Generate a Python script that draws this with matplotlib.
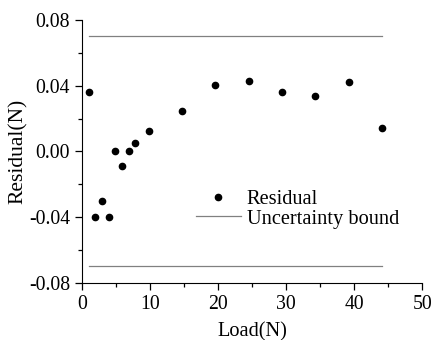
import matplotlib
matplotlib.use("Agg")
import matplotlib.pyplot as plt
from matplotlib.ticker import MultipleLocator, FormatStrFormatter

# data
load = [0.98, 1.96, 2.94, 3.92, 4.9, 5.88, 6.86, 7.84, 9.8,
        14.7, 19.6, 24.5, 29.4, 34.3, 39.2, 44.1]
residual = [0.0365, -0.040, -0.030, -0.040, 0.0002, -0.009, 0.0004, 0.0053, 0.0126,
            0.0248, 0.0402, 0.0432, 0.0365, 0.0335, 0.042, 0.014]
bound_x = [0.98, 44.1]
bound = 0.07

plt.rcParams["font.family"] = ["Liberation Serif", "DejaVu Serif"]
plt.rcParams["axes.unicode_minus"] = False
plt.rcParams["font.size"] = 14.7

fig = plt.figure(figsize=(4.33, 3.40), dpi=100)
ax = fig.add_axes([0.189, 0.168, 0.786, 0.773])

ax.plot(load, residual, "o", color="black", markersize=4.5, label="Residual")
ax.plot(bound_x, [bound, bound], color="#808080", linewidth=0.9, label="Uncertainty bound")
ax.plot(bound_x, [-bound, -bound], color="#808080", linewidth=0.9)

ax.set_xlim(0, 50)
ax.set_ylim(-0.08, 0.08)
ax.xaxis.set_major_locator(MultipleLocator(10))
ax.xaxis.set_minor_locator(MultipleLocator(5))
ax.yaxis.set_major_locator(MultipleLocator(0.04))
ax.yaxis.set_minor_locator(MultipleLocator(0.02))
ax.yaxis.set_major_formatter(FormatStrFormatter("%.2f"))

ax.spines["top"].set_visible(False)
ax.spines["right"].set_visible(False)
ax.tick_params(which="major", direction="out", length=5, width=0.9, labelsize=14.2)
ax.tick_params(which="minor", direction="out", length=3, width=0.9)

ax.set_xlabel("Load(N)", labelpad=6)
ax.set_ylabel("Residual(N)", fontsize=15.5, labelpad=1)

ax.legend(loc="center left", bbox_to_anchor=(0.335, 0.28), frameon=False,
          borderpad=0, borderaxespad=0, handlelength=2.2, handletextpad=0.3,
          labelspacing=0.0)

fig.savefig("out.png", dpi=100)
